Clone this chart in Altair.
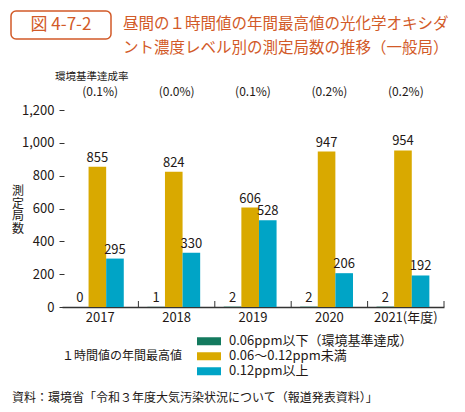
import altair as alt
import pandas as pd

years = ["2017", "2018", "2019", "2020", "2021"]
rates = ["(0.1%)", "(0.0%)", "(0.1%)", "(0.2%)", "(0.2%)"]
series = ["0.06ppm以下（環境基準達成）", "0.06～0.12ppm未満", "0.12ppm以上"]
below = [0, 1, 2, 2, 2]
middle = [855, 824, 606, 947, 954]
above = [295, 330, 528, 206, 192]
colors = ["#137A5E", "#D9A900", "#00A4C6"]
y_ticks = [0, 200, 400, 600, 800, 1000, 1200]

title_box = "図 4-7-2"
title_lines = ["昼間の１時間値の年間最高値の光化学オキシダ", "ント濃度レベル別の測定局数の推移（一般局）"]
rate_header = "環境基準達成率"
y_title = ["測", "定", "局", "数"]
legend_title = "１時間値の年間最高値"
source = "資料：環境省「令和３年度大気汚染状況について（報道発表資料）」"

rows = []
for i, yr in enumerate(years):
    for s, v in zip(series, [below[i], middle[i], above[i]]):
        rows.append({"year": yr, "series": s, "value": v})
df = pd.DataFrame(rows)
rate_df = pd.DataFrame({"year": years, "rate": rates})

FONT = "Noto Sans CJK JP"
TXT = "#231815"
ORANGE = "#D25A28"

x_axis = alt.X(
    "year:N", sort=years,
    scale=alt.Scale(paddingInner=0, paddingOuter=0),
    axis=alt.Axis(title=None, ticks=False, domainColor="#333333", domainWidth=1.5,
                  labelAngle=0, labelFontSize=13, labelColor=TXT, labelFont=FONT,
                  labelPadding=4,
                  labelExpr="datum.value == '2021' ? '2021(年度)' : datum.value"),
)
x_plain = alt.X("year:N", sort=years)
x_off = alt.XOffset("series:N", sort=series,
                    scale=alt.Scale(paddingOuter=0.67, paddingInner=0, align=0.38))
y_axis = alt.Y(
    "value:Q",
    scale=alt.Scale(domain=[0, 1200], nice=False),
    axis=alt.Axis(title=None, values=y_ticks, tickCount=len(y_ticks), format=",.0f",
                  domain=False, grid=False,
                  tickSize=5, tickColor="#333333", tickWidth=1, offset=-2,
                  labelOverlap=False,
                  labelFontSize=13, labelColor=TXT, labelFont=FONT, labelPadding=5),
)

base = alt.Chart(df)

bars = base.mark_bar().encode(
    x=x_axis, xOffset=x_off, y=y_axis,
    color=alt.Color(
        "series:N", sort=series,
        scale=alt.Scale(domain=series, range=colors),
        legend=alt.Legend(title=None, orient="none", legendX=135, legendY=224,
                          symbolType="M-1,-0.34H1V0.34H-1Z", symbolSize=576,
                          symbolStrokeWidth=0, symbolOpacity=1,
                          labelFontSize=13, labelFont=FONT, labelColor=TXT,
                          labelLimit=400,
                          labelOffset=8, clipHeight=14.5, rowPadding=0),
    ),
)

labels = base.mark_text(baseline="bottom", dy=-2, fontSize=13, font=FONT, color=TXT).encode(
    x=x_plain, xOffset=x_off, y=alt.Y("value:Q"), text=alt.Text("value:Q"),
)

seps = alt.Chart(rate_df).mark_rule(color="#333333", strokeWidth=1).encode(
    x=alt.X("year:N", sort=years, bandPosition=1),
    y=alt.value(197), y2=alt.value(191),
)

rate_text = alt.Chart(rate_df).mark_text(fontSize=12, font=FONT, color=TXT, baseline="middle").encode(
    x=x_plain, y=alt.value(-18), text="rate:N",
)

def label(txt, x, y, size, color=TXT, align="left", **kw):
    return alt.Chart(pd.DataFrame({"t": [0]})).mark_text(
        text=txt, fontSize=size, font=FONT, color=color, align=align, baseline="middle", **kw
    ).encode(x=alt.value(x), y=alt.value(y))

box = alt.Chart(pd.DataFrame({"t": [0]})).mark_rect(
    fill="white", stroke=ORANGE, strokeWidth=1.5, cornerRadius=5
).encode(x=alt.value(-51), x2=alt.value(49), y=alt.value(-99), y2=alt.value(-71))

y_title_layers = [label(ch, -44, 81 + 12.5 * i, 12, align="center") for i, ch in enumerate(y_title)]

chart = alt.layer(
    bars, labels, seps, rate_text,
    box,
    label(title_box, -1, -85, 17, ORANGE, "center"),
    label(title_lines[0], 61, -86, 15.5, ORANGE),
    label(title_lines[1], 61, -62, 15.5, ORANGE),
    label(rate_header, -7, -33, 10.5),
    *y_title_layers,
    label(legend_title, 120, 246, 12, align="right"),
    label(source, -50, 288, 12),
).properties(
    width=382, height=197,
    autosize=alt.AutoSizeParams(type="none"),
    padding={"left": 54, "top": 102, "right": 11, "bottom": 100},
    background="white",
).configure_view(stroke=None)

chart.save("out.html", embed_options={"renderer": "svg", "actions": False})
